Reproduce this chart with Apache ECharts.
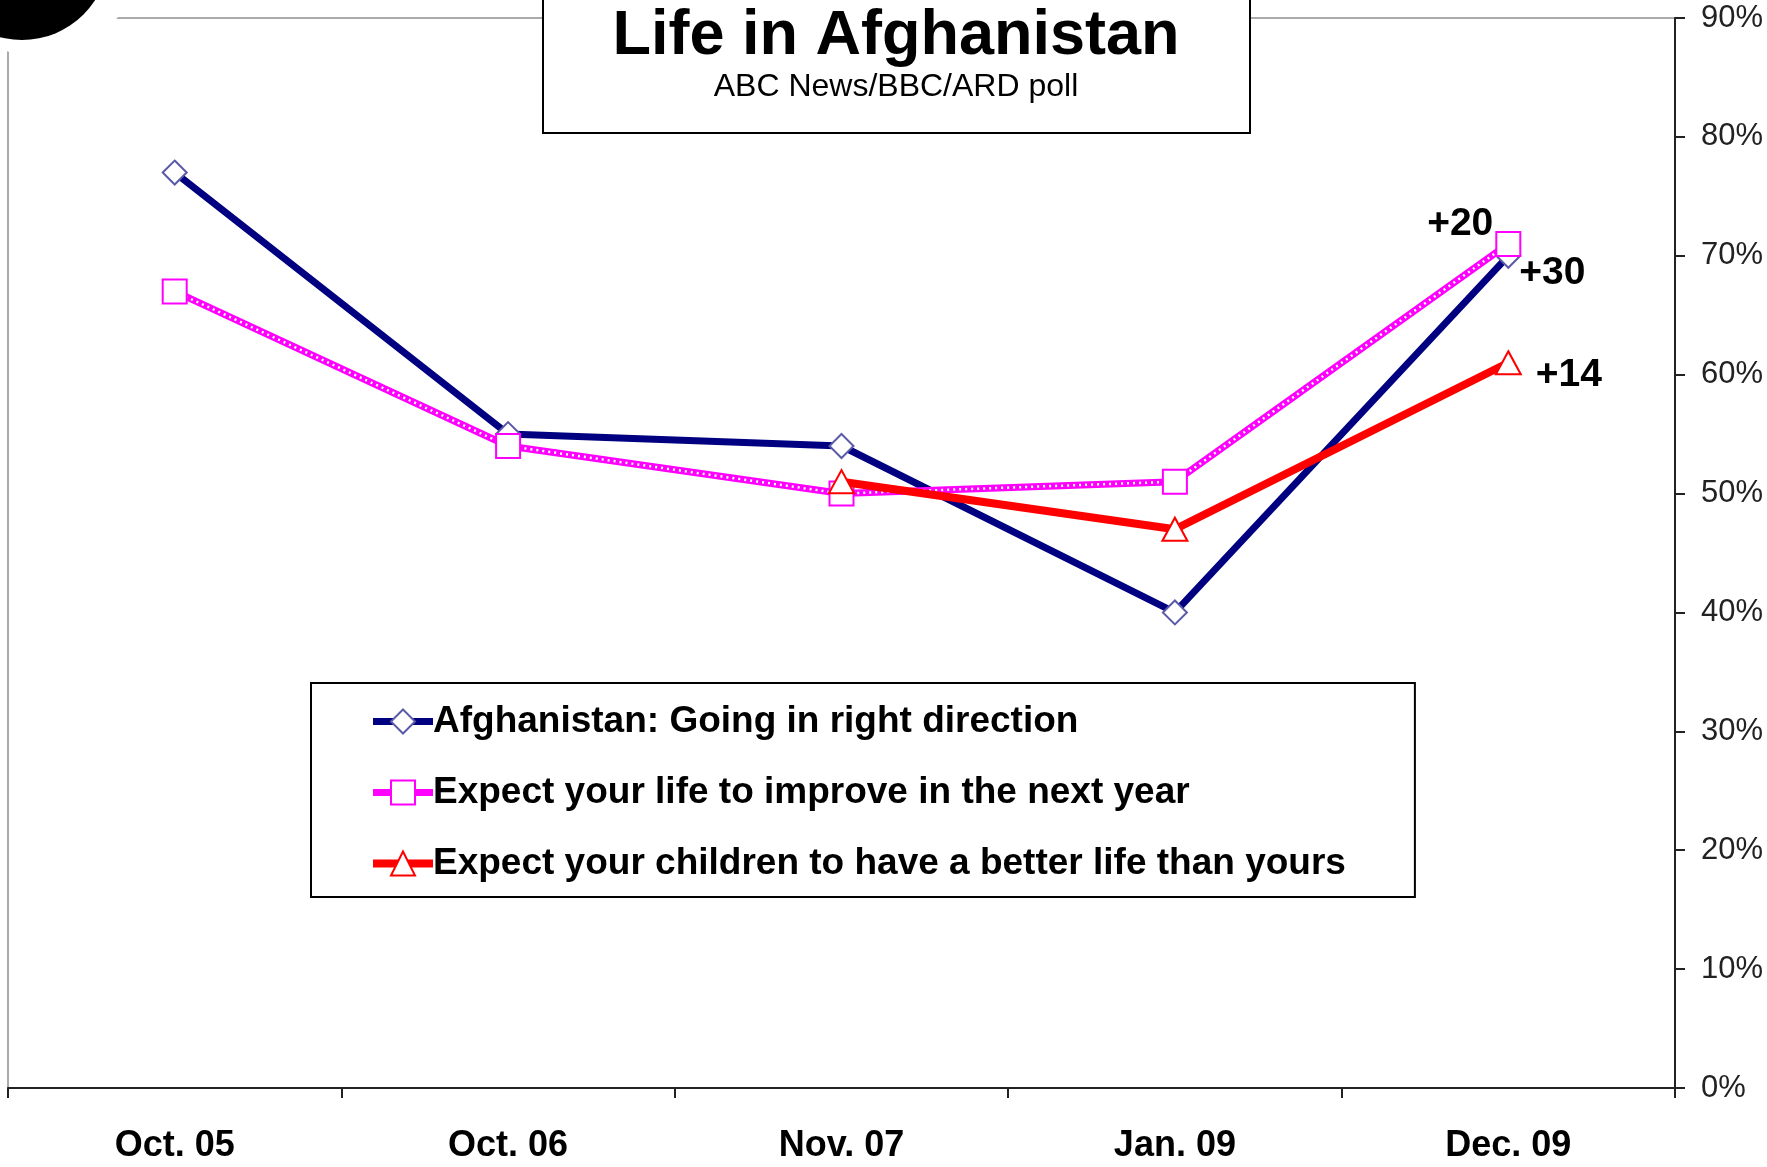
<!DOCTYPE html>
<html>
<head>
<meta charset="utf-8">
<title>Life in Afghanistan</title>
<script src="https://cdn.jsdelivr.net/npm/echarts@6/dist/echarts.min.js"></script>
<style>
  html, body { margin: 0; padding: 0; background: #fff; }
  #chart { width: 1767px; height: 1167px; }
</style>
</head>
<body>
<div id="chart"></div>
<script>
// poll waves
const categories = ['Oct. 05', 'Oct. 06', 'Nov. 07', 'Jan. 09', 'Dec. 09'];

// percent values per series
const rightDirection = [77, 55, 54, 40, 70];
const lifeImprove = [67, 54, 50, 51, 71];
const childrenBetter = [null, null, 51, 47, 61];

// change labels at the last wave
const rightDirectionChange = '+30';
const lifeImproveChange = '+20';
const childrenBetterChange = '+14';

const seriesNames = [
  'Afghanistan: Going in right direction',
  'Expect your life to improve in the next year',
  'Expect your children to have a better life than yours'
];

const FONT = '"Liberation Sans", Arial, sans-serif';

// put a label on the last point only
function withEndLabel (values, text, labelOpt) {
  return values.map((v, i) => {
    if (i !== values.length - 1) return v;
    return {
      value: v,
      label: Object.assign({
        show: true,
        formatter: text,
        color: '#000',
        fontFamily: FONT,
        fontWeight: 'bold',
        fontSize: 39
      }, labelOpt)
    };
  });
}

const chart = echarts.init(document.getElementById('chart'), null, { renderer: 'canvas' });

chart.setOption({
  animation: false,
  backgroundColor: '#fff',
  grid: {
    left: 8,
    right: 92,
    top: 18,
    bottom: 79,
    show: true,
    borderColor: '#aaa',
    borderWidth: 2,
    backgroundColor: 'transparent'
  },
  title: {
    text: 'Life in Afghanistan',
    subtext: 'ABC News/BBC/ARD poll',
    left: 891,
    top: 0,
    textAlign: 'center',
    itemGap: 3,
    z: 20,
    textStyle: {
      fontFamily: FONT,
      fontWeight: 'bold',
      fontSize: 63,
      color: '#000'
    },
    subtextStyle: {
      fontFamily: FONT,
      fontSize: 32,
      color: '#000'
    }
  },
  legend: {
    data: seriesNames,
    orient: 'vertical',
    left: 311,
    top: 683,
    padding: [20, 69, 15, 58],
    itemWidth: 60,
    itemHeight: 30,
    itemGap: 34,
    borderColor: '#000',
    borderWidth: 2,
    backgroundColor: '#fff',
    lineStyle: { width: 'inherit' },
    textStyle: {
      fontFamily: FONT,
      fontWeight: 'bold',
      fontSize: 37,
      color: '#000',
      padding: [0, 0, 0, -5]
    }
  },
  xAxis: {
    type: 'category',
    data: categories,
    boundaryGap: true,
    axisLine: { show: true, lineStyle: { color: '#222', width: 2 } },
    axisTick: { show: true, inside: false, length: 10, lineStyle: { color: '#222', width: 2 } },
    axisLabel: {
      margin: 40,
      fontFamily: FONT,
      fontWeight: 'bold',
      fontSize: 36,
      color: '#000'
    },
    splitLine: { show: false }
  },
  yAxis: {
    type: 'value',
    position: 'right',
    min: 0,
    max: 90,
    interval: 10,
    axisLine: { show: true, lineStyle: { color: '#222', width: 2 } },
    axisTick: { show: true, inside: false, length: 10, lineStyle: { color: '#222', width: 2 } },
    axisLabel: {
      margin: 26,
      formatter: '{value}%',
      fontFamily: FONT,
      fontSize: 31,
      color: '#222'
    },
    splitLine: { show: false }
  },
  series: [
    {
      name: seriesNames[0],
      type: 'line',
      z: 2,
      data: withEndLabel(rightDirection, rightDirectionChange, { position: 'right', distance: 0, offset: [-2, 17] }),
      symbol: 'diamond',
      symbolSize: [24, 24],
      showAllSymbol: true,
      lineStyle: { color: '#000080', width: 7 },
      itemStyle: { color: '#fff', borderColor: '#5a5aa8', borderWidth: 2 }
    },
    {
      name: seriesNames[1],
      type: 'line',
      z: 3,
      data: withEndLabel(lifeImprove, lifeImproveChange, { position: 'left', distance: 2, offset: [0, -20] }),
      symbol: 'rect',
      symbolSize: 24,
      lineStyle: { color: '#ff00ff', width: 7 },
      itemStyle: { color: '#fff', borderColor: '#ff00ff', borderWidth: 2 }
    },
    {
      // white dots running inside the magenta line
      name: 'dots',
      type: 'line',
      z: 3,
      silent: true,
      data: lifeImprove,
      symbol: 'none',
      lineStyle: { color: '#fff', width: 2.5, type: [2, 4] }
    },
    {
      name: seriesNames[2],
      type: 'line',
      z: 4,
      connectNulls: false,
      data: withEndLabel(childrenBetter, childrenBetterChange, { position: 'right', distance: 14, offset: [0, 12] }),
      symbol: 'triangle',
      symbolSize: [25, 23],
      lineStyle: { color: '#ff0000', width: 8 },
      itemStyle: { color: '#fff', borderColor: '#ff0000', borderWidth: 2 }
    }
  ],
  graphic: [
    // title box, open at the top
    {
      type: 'rect',
      z: 10,
      shape: { x: 543, y: -10, width: 707, height: 143 },
      style: { fill: '#fff', stroke: '#000', lineWidth: 2 }
    },
    // black blob in the top-left corner with its white halo
    {
      type: 'circle',
      z: 30,
      shape: { cx: 35, cy: -55, r: 110 },
      style: { fill: '#fff' }
    },
    {
      type: 'circle',
      z: 31,
      shape: { cx: 22, cy: -47, r: 87 },
      style: { fill: '#000' }
    }
  ]
});
</script>
</body>
</html>
